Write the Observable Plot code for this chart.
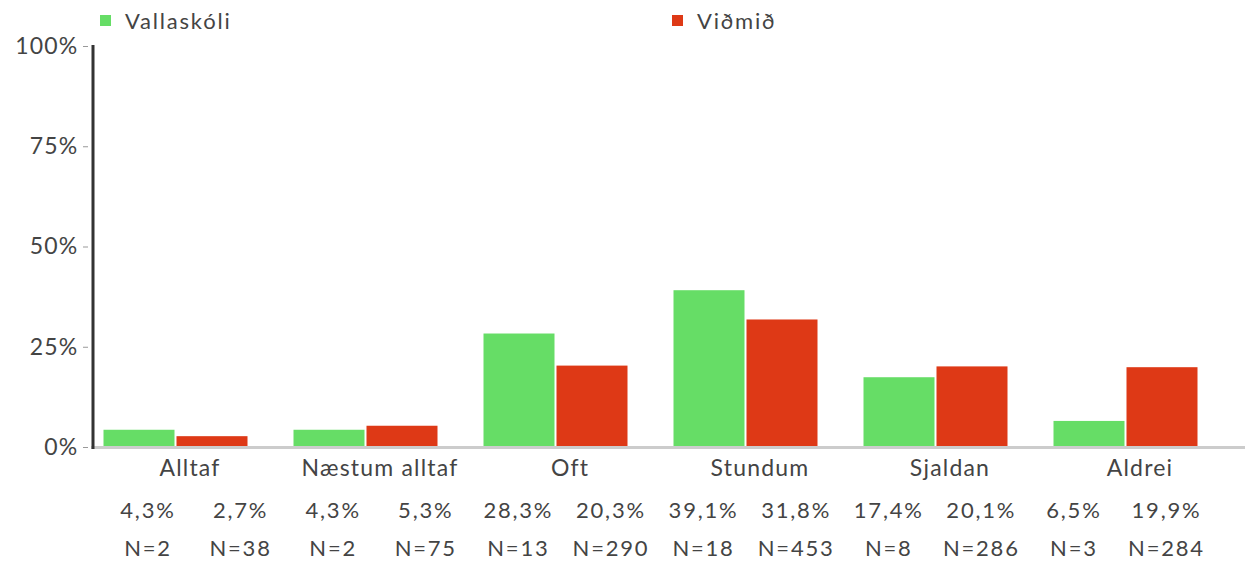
<!DOCTYPE html>
<html><head><meta charset="utf-8">
<script src="https://cdn.jsdelivr.net/npm/d3@7"></script>
<script src="https://cdn.jsdelivr.net/npm/@observablehq/plot@0.6"></script>
<style>
body{margin:0;background:#fff;font-family:Lato,"Open Sans",sans-serif;color:#444;}
#legend{height:36px;position:relative;}
.item{position:absolute;top:0;display:flex;align-items:center;height:40px;font-size:22px;letter-spacing:1.8px}
.sw{width:11px;height:11px;margin-right:14px}
#table table{border-collapse:collapse;margin-left:101.7px;margin-top:4px;table-layout:fixed;font-size:22px;letter-spacing:1.8px}
#table td{width:92.6px;min-width:92.6px;max-width:92.6px;text-align:center;height:38px;padding:0;white-space:nowrap}
</style></head><body>
<div id="legend"></div><div id="chart"></div><div id="table"></div>
<script>
const categories = ["Alltaf","Næstum alltaf","Oft","Stundum","Sjaldan","Aldrei"];
const series = ["Vallaskóli","Viðmið"];
const vallaskoli = [4.3,4.3,28.3,39.1,17.4,6.5];
const vidmid = [2.7,5.3,20.3,31.8,20.1,19.9];
const nVallaskoli = [2,2,13,18,8,3];
const nVidmid = [38,75,290,453,286,284];
const colors = ["#66dd66","#de3916"];
const yTicks = [0,25,50,75,100];

// legend
const legend = document.getElementById("legend");
const legendLeft = [100, 672];
series.forEach((s,i)=>{
  const it = document.createElement("div");
  it.className="item"; it.style.left = legendLeft[i]+"px";
  it.innerHTML = `<span class="sw" style="background:${colors[i]}"></span><span>${s}</span>`;
  legend.appendChild(it);
});

const rows = categories.flatMap((c,i)=>[
  {cat:c, series:series[0], value:vallaskoli[i]},
  {cat:c, series:series[1], value:vidmid[i]}
]);

const chart = Plot.plot({
  width:1245, height:450, marginTop:10, marginBottom:39, marginLeft:91, marginRight:0,
  style:{fontFamily:"Lato, 'Open Sans', sans-serif", fontSize:"22px", color:"#444", background:"#fff", letterSpacing:"1.2px", overflow:"visible"},
  x:{domain:categories, range:[78.15,1222.85], paddingInner:0.628, paddingOuter:0.314, axis:null},
  y:{domain:[0,100], axis:null},
  marks:[
    Plot.barY(rows.filter(d=>d.series===series[0]), {x:"cat", y:"value", fill:colors[0], dx:-36.5}),
    Plot.barY(rows.filter(d=>d.series===series[1]), {x:"cat", y:"value", fill:colors[1], dx:36.5}),
    Plot.ruleY([0], {stroke:"#cccccc", strokeWidth:3}),
    Plot.frame({anchor:"left", stroke:"#333", strokeWidth:3, dx:1.5}),
    Plot.axisY({ticks:yTicks, tickFormat:d=>d+"%", tickSize:5, dx:-3, tickPadding:5, stroke:"#999", fill:"#444", fontSize:23, label:null}),
    Plot.axisX({tickSize:0, tickPadding:12, dx:14, fill:"#444", fontSize:23, label:null})
  ]
});
document.getElementById("chart").appendChild(chart);

// value table
const tbl = document.createElement("table");
const r1 = tbl.insertRow(), r2 = tbl.insertRow();
const fmt = v => v.toFixed(1).replace(".", ",") + "%";
categories.forEach((c,i)=>{
  r1.insertCell().textContent = fmt(vallaskoli[i]);
  r1.insertCell().textContent = fmt(vidmid[i]);
  r2.insertCell().textContent = "N=" + nVallaskoli[i];
  r2.insertCell().textContent = "N=" + nVidmid[i];
});
document.getElementById("table").appendChild(tbl);
</script>
</body></html>
